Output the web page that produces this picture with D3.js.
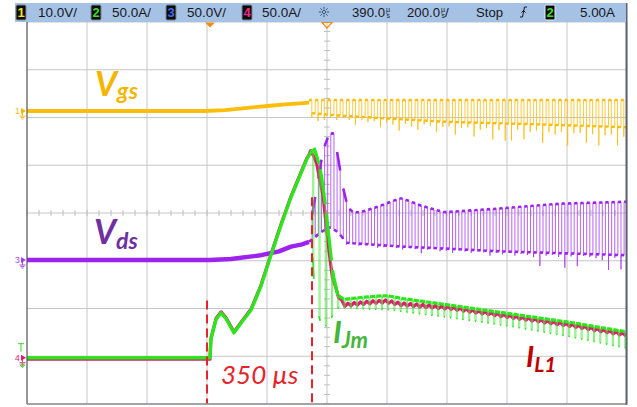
<!DOCTYPE html>
<html>
<head>
<meta charset="utf-8">
<script src="https://cdn.jsdelivr.net/npm/d3@7/dist/d3.min.js"></script>
<style>
  html, body { margin: 0; padding: 0; background: #fff; }
  svg { display: block; }
</style>
</head>
<body>
<svg id="scope" width="637" height="407"></svg>
<script>
// ---------- scope settings (time in µs from the trigger) ----------
const timeWindow   = [-610, 1390];          // 200 µs/div, delay 390 µs
const divRange     = [-4, 4];
const switchStart  = 330;                   // first gate pulse
const switchPeriod = 20.8;                  // PWM period, µs

// ---------- channel 1 : Vgs (V) ----------
const vgsRampT = [-610, -20, 50, 100, 150, 200, 250, 300, 330];
const vgsRampV = [0, 0, 0.2, 0.5, 0.8, 1.1, 1.4, 1.6, 1.75];
const vgsHighT = [330, 1390];
const vgsHighV = [2.3, 2.3];
const vgsLowT  = [330, 400, 570, 800, 1040, 1390];
const vgsLowV  = [-0.4, -0.8, -1.5, -2.3, -2.7, -3.4];
const vgsSpike = [0.8, 1.5, 1.2, 0.6, 1.0, 0.5, 0.8, 1.8, 0.6, 1.0,
                  0.7, 1.9, 0.8, 1.2, 2.4, 0.9, 1.4, 2.0, 0.8, 1.0,
                  2.2, 1.1, 0.9, 2.6, 1.2, 1.0, 2.9, 1.5, 1.1, 3.4,
                  1.4, 3.6, 3.5, 1.2, 3.2, 1.6, 1.3, 3.8, 1.5, 2.0,
                  1.4, 4.2, 1.6, 1.5, 3.5, 1.7, 4.0, 1.8, 1.6, 3.9, 2.0];

// ---------- channel 3 : Vds (V) ----------
const vdsRampT = [-610, 0, 70, 170, 230, 270, 303, 330];
const vdsRampV = [0, 0, 1, 5, 9, 14, 16, 19];
const vdsHighT = [330, 345, 377, 397, 413, 430, 447, 460, 477, 503, 570, 637, 703, 780, 970, 1170, 1390];
const vdsHighV = [30, 55, 115, 132, 133, 101, 70, 55, 50, 50, 57, 65, 57, 50, 54, 59, 61];
const vdsLowT  = [330, 370, 400, 430, 455, 640, 780, 970, 1390];
const vdsLowV  = [19, 29, 35, 28, 18, 14, 12, 9, 5];
const vdsSpike = [0, 0, 0, 0, 0, 0, 2, 1, 2, 1,
                  1, 3, 2, 1, 2, 3, 1, 2, 6, 2,
                  1, 3, 2, 4, 1, 2, 3, 1, 2, 5,
                  2, 3, 1, 4, 2, 3, 5, 14, 3, 2,
                  4, 15, 3, 13, 2, 3, 4, 6, 16, 3, 15];

// ---------- channel 4 : IL1 (A) ----------
const il1T = [-610, 0, 3, 20, 37, 53, 80, 103, 137, 170, 203, 237, 270, 303, 323, 337, 347,
              363, 377, 387, 397, 410, 427, 447, 470, 537, 587, 637, 803, 1003, 1203, 1390];
const il1A = [-1.5, -1.5, 20, 41, 48, 42, 27, 37, 51, 76, 108, 140, 169, 194, 209, 216, 212,
              193, 168, 141, 109, 81, 65, 55, 56, 58, 59, 56, 52, 43, 34, 24];
const il1Ripple = 1.5;

// ---------- channel 2 : IJm (A) ----------
const ijmRampT = [-610, 0, 3, 20, 37, 53, 80, 103, 137, 170, 203, 237, 270, 303, 323, 330];
const ijmRampA = [0, 0, 19, 40, 47, 41, 26, 36, 50, 75, 107, 139, 168, 193, 208, 212];
const ijmHighT = [330, 347, 360, 375, 390, 400, 410, 425, 445, 470, 540, 590, 640, 800, 1000, 1200, 1390];
const ijmHighA = [212, 220, 208, 185, 145, 115, 88, 66, 61, 62, 64, 65, 62, 55, 46, 37, 27];
const ijmLowT  = [330, 340, 350, 370, 390, 410, 430, 460, 600, 800, 1000, 1200, 1390];
const ijmLowA  = [200, 120, 60, 35, 33, 45, 53, 52, 50, 42, 33, 22, 10];

// ---------- markers ----------
const markerT    = [-10, 340];
const markerTopA = [60, 168];
const markerText = "350 µs";

// ---------- status bar ----------
const chanBadges = ["1", "2", "3", "4"];
const chanScales = ["10.0V/", "50.0A/", "50.0V/", "50.0A/"];
const timeDelay  = "390.0";
const timeScale  = "200.0";
const runState   = "Stop";
const trigSource = "2";
const trigLevel  = "5.00A";

// ================= drawing =================
const screen = { left: 27, right: 627, top: 22, bottom: 404 };
const svg = d3.select("#scope");

const x    = d3.scaleLinear().domain(timeWindow).range([screen.left, screen.right]);
const yDiv = d3.scaleLinear().domain(divRange).range([screen.bottom, screen.top]);

const chVgs = { perDiv: 10, ground: 2.136 };
const chVds = { perDiv: 50, ground: -0.984 };
const chI   = { perDiv: 50, ground: -3.03 };
const yOf = (ch, v) => yDiv(ch.ground + v / ch.perDiv);

// graticule
const grid = svg.append("g");
const xTicks = d3.range(timeWindow[0], timeWindow[1] + 1, 200);
grid.selectAll(".v").data(xTicks).join("line")
  .attr("x1", d => x(d)).attr("x2", d => x(d))
  .attr("y1", screen.top).attr("y2", screen.bottom)
  .attr("stroke", "#c6c6c6").attr("stroke-width", 1);
grid.selectAll(".h").data(d3.range(divRange[0], divRange[1] + 1)).join("line")
  .attr("x1", screen.left).attr("x2", screen.right)
  .attr("y1", d => yDiv(d)).attr("y2", d => yDiv(d))
  .attr("stroke", "#c6c6c6").attr("stroke-width", 1);
// minor ticks on the centre lines
const xMid = x((timeWindow[0] + timeWindow[1]) / 2), yMid = yDiv(0);
grid.selectAll(".mx").data(d3.range(timeWindow[0], timeWindow[1], 40)).join("line")
  .attr("x1", d => x(d)).attr("x2", d => x(d)).attr("y1", yMid - 3).attr("y2", yMid + 3)
  .attr("stroke", "#bdbdbd");
grid.selectAll(".my").data(d3.range(divRange[0], divRange[1], 0.2)).join("line")
  .attr("x1", xMid - 3).attr("x2", xMid + 3).attr("y1", d => yDiv(d)).attr("y2", d => yDiv(d))
  .attr("stroke", "#bdbdbd");

// screen clip
svg.append("defs").append("clipPath").attr("id", "screen").append("rect")
  .attr("x", screen.left).attr("y", screen.top)
  .attr("width", screen.right - screen.left).attr("height", screen.bottom - screen.top);
const plot = svg.append("g").attr("clip-path", "url(#screen)");

const zip = (ts, vs) => ts.map((t, i) => [t, vs[i]]);
const env = (ts, vs) => d3.scaleLinear().domain(ts).range(vs).clamp(true);

function trace(ch, pts, color, w, op = 1) {
  plot.append("path")
    .attr("d", d3.line().x(d => x(d[0])).y(d => yOf(ch, d[1]))(pts))
    .attr("fill", "none").attr("stroke", color).attr("stroke-width", w)
    .attr("stroke-opacity", op).attr("stroke-linejoin", "round");
}
function flats(ch, segs, color, w) {
  const p = d3.path();
  segs.forEach(([t1, v1, t2, v2]) => { p.moveTo(x(t1), yOf(ch, v1)); p.lineTo(x(t2), yOf(ch, v2)); });
  plot.append("path").attr("d", p.toString())
    .attr("fill", "none").attr("stroke", color).attr("stroke-width", w);
}

const pulses = d3.range(switchStart, timeWindow[1], switchPeriod);
const P = switchPeriod;

// --- Vgs ---
const YEL = "#fbbd0c";
{
  const hi = env(vgsHighT, vgsHighV), lo = env(vgsLowT, vgsLowV);
  const full = [[switchStart, vgsRampV[vgsRampV.length - 1]]], flat = [];
  pulses.forEach((tk, k) => {
    const tf = tk + 0.45 * P, tn = tk + P;
    full.push([tk, hi(tk)], [tf, hi(tf)], [tf, lo(tf) - (vgsSpike[k] || 1)], [tf, lo(tf)], [tn, lo(tn)]);
    flat.push([tk, hi(tk), tf, hi(tf)], [tf, lo(tf), tn, lo(tn)]);
  });
  trace(chVgs, zip(vgsRampT, vgsRampV), YEL, 3.8);
  trace(chVgs, full, YEL, 1, 0.8);
  flats(chVgs, flat, YEL, 2.4);
}

// --- Vds ---
const PUR = "#9d22ee";
{
  const hi = env(vdsHighT, vdsHighV), lo = env(vdsLowT, vdsLowV);
  const full = [[switchStart, vdsRampV[vdsRampV.length - 1]]], flat = [];
  pulses.forEach((tk, k) => {
    const tr = tk + 0.5 * P, tn = tk + P;
    full.push([tk, lo(tk) - (vdsSpike[k] || 0)], [tk, lo(tk)], [tr, lo(tr)], [tr, hi(tr)], [tn, hi(tn)], [tn, lo(tn)]);
    flat.push([tk, lo(tk), tr, lo(tr)], [tr, hi(tr), tn, hi(tn)]);
  });
  trace(chVds, zip(vdsRampT, vdsRampV), PUR, 4.4);
  trace(chVds, full, "#a63cf0", 1, 0.8);
  flats(chVds, flat, PUR, 2.6);
}

// --- IL1 ---
const MAG = "#e3196e";
{
  const m = env(il1T, il1A);
  const pts = zip(il1T.filter(t => t <= switchStart), il1A.filter((a, i) => il1T[i] <= switchStart));
  pts.push([switchStart, m(switchStart)]);
  pulses.forEach(tk => {
    pts.push([tk + 0.25 * P, m(tk + 0.25 * P) + il1Ripple], [tk + 0.75 * P, m(tk + 0.75 * P) - il1Ripple]);
  });
  trace(chI, pts, MAG, 3.2);
}

// --- IJm ---
const GRN = "#2de51c";
{
  const up = env(ijmHighT, ijmHighA), low = env(ijmLowT, ijmLowA);
  const full = [[switchStart, ijmRampA[ijmRampA.length - 1]]], flat = [], bottoms = [];
  pulses.forEach(tk => {
    const tg = tk + 0.6 * P, tb = tg + 0.18 * P, tn = tk + P;
    full.push([tk, up(tk)], [tg, up(tg)], [tg, low(tg)], [tb, low(tb)], [tb, up(tb)], [tn, up(tn)]);
    flat.push([tk, up(tk), tg, up(tg)], [tb, up(tb), tn, up(tn)]);
    bottoms.push([tg, low(tg), tb, low(tb)]);
  });
  trace(chI, zip(ijmRampT, ijmRampA), GRN, 3.4);
  trace(chI, full, "#4ae83a", 1, 0.7);
  flats(chI, flat, GRN, 3.2);
  flats(chI, bottoms, GRN, 1.5);
}

// --- dashed time markers ---
const RED = "#e6222a";
plot.selectAll(".mk").data(markerT).join("line")
  .attr("x1", d => x(d)).attr("x2", d => x(d))
  .attr("y1", (d, i) => yOf(chI, markerTopA[i])).attr("y2", screen.bottom)
  .attr("stroke", RED).attr("stroke-width", 2).attr("stroke-dasharray", "9,5");

// --- frame ---
svg.append("line").attr("x1", screen.left).attr("x2", screen.left)
  .attr("y1", screen.top).attr("y2", screen.bottom).attr("stroke", "#4a4a4a").attr("stroke-width", 1);
svg.append("line").attr("x1", screen.left).attr("x2", screen.right)
  .attr("y1", screen.bottom).attr("y2", screen.bottom).attr("stroke", "#8c8f96").attr("stroke-width", 1.5);
svg.append("line").attr("x1", screen.right - 0.5).attr("x2", screen.right - 0.5)
  .attr("y1", 3).attr("y2", screen.bottom + 0.75).attr("stroke", "#5c6470").attr("stroke-width", 2);

// --- channel ground markers on the left edge ---
function groundMark(yy, label, color) {
  const g = svg.append("g").attr("fill", color).attr("stroke", color);
  g.append("text").attr("x", 15).attr("y", yy + 3).attr("font-size", 8.5)
    .attr("font-family", "Liberation Sans, Arial, sans-serif").attr("stroke", "none").text(label);
  g.append("path").attr("d", `M21,${yy - 3} L26,${yy} L21,${yy + 3} Z`).attr("stroke", "none");
  g.append("path").attr("fill", "none").attr("stroke-width", 0.9)
    .attr("d", `M22.5,${yy + 2} V${yy + 5} M19.5,${yy + 5} H25.5 M20.5,${yy + 6.5} H24.5 M21.5,${yy + 8} H23.5`);
}
groundMark(yOf(chVgs, 0), "1", "#f2b705");
groundMark(yOf(chVds, 0), "3", "#a040e8");
groundMark(yOf(chI, 0), "4", "#e3196e");
// trigger level marker of channel 2
const yT = yOf(chI, 0);
svg.append("path").attr("fill", "none").attr("stroke", "#3cd62c").attr("stroke-width", 1)
  .attr("d", `M18,${yT - 14} H24 M21,${yT - 14} V${yT - 6} M22.5,${yT + 4} V${yT + 9} M20,${yT + 7} L22.5,${yT + 10} L25,${yT + 7}`);

// --- top markers (trigger point, delay reference) ---
svg.append("path").attr("d", `M${x(0) - 5},22.5 L${x(0) + 5},22.5 L${x(0)},27.5 Z`).attr("fill", "#f08c1c");
svg.append("path").attr("d", `M${xMid - 5},22.5 L${xMid + 5},22.5 L${xMid},28 Z`)
  .attr("fill", "none").attr("stroke", "#f08c1c").attr("stroke-width", 1.2);

// --- status bar ---
const bar = svg.append("g").attr("font-family", "Liberation Sans, Arial, sans-serif").attr("font-size", 13.5);
bar.append("rect").attr("x", 15).attr("y", 3).attr("width", 611).attr("height", 19).attr("fill", "#a5c2e4");
const badgeCol = ["#f4e21a", "#3cdc2a", "#3d6cf2", "#f0288a"];
const badgeX = [16, 91, 166, 242];
const scaleX = [38, 112, 187, 262];
function badge(bx, txt, col, edge) {
  bar.append("rect").attr("x", bx).attr("y", 5).attr("width", 10).attr("height", 15).attr("rx", 1.5)
    .attr("fill", "#0c0c0c").attr("stroke", edge).attr("stroke-width", 1);
  bar.append("text").attr("x", bx + 5).attr("y", 17.3).attr("text-anchor", "middle")
    .attr("font-weight", "bold").attr("font-size", 13).attr("fill", col).text(txt);
}
chanBadges.forEach((b, i) => {
  badge(badgeX[i], b, badgeCol[i], "#7b8796");
  bar.append("text").attr("x", scaleX[i]).attr("y", 17.3).attr("fill", "#15171c")
    .attr("textLength", 39).attr("lengthAdjust", "spacingAndGlyphs").text(chanScales[i]);
});
// acquisition icon
const sun = bar.append("g").attr("stroke", "#3a4d6a").attr("stroke-width", 0.9);
d3.range(0, 360, 45).forEach(a => {
  const r = a * Math.PI / 180;
  sun.append("line").attr("x1", 324 + 2.6 * Math.cos(r)).attr("y1", 12 + 2.6 * Math.sin(r))
    .attr("x2", 324 + 5.2 * Math.cos(r)).attr("y2", 12 + 5.2 * Math.sin(r));
});
sun.append("circle").attr("cx", 324).attr("cy", 12).attr("r", 1.6).attr("fill", "none");
// time settings
function microSec(px) {
  bar.append("text").attr("x", px).attr("y", 11.5).attr("font-size", 7).attr("fill", "#15171c").text("µ");
  bar.append("text").attr("x", px + 0.5).attr("y", 17.5).attr("font-size", 7).attr("fill", "#15171c").text("s");
}
bar.append("text").attr("x", 352).attr("y", 17.3).attr("fill", "#15171c")
  .attr("textLength", 33).attr("lengthAdjust", "spacingAndGlyphs").text(timeDelay);
microSec(386);
bar.append("text").attr("x", 407).attr("y", 17.3).attr("fill", "#15171c")
  .attr("textLength", 33).attr("lengthAdjust", "spacingAndGlyphs").text(timeScale);
microSec(441);
bar.append("text").attr("x", 445).attr("y", 17.3).attr("fill", "#15171c").text("/");
bar.append("text").attr("x", 476).attr("y", 17.3).attr("fill", "#15171c")
  .attr("textLength", 27).attr("lengthAdjust", "spacingAndGlyphs").text(runState);
// rising-edge trigger glyph
bar.append("path").attr("fill", "none").attr("stroke", "#15171c").attr("stroke-width", 1)
  .attr("d", "M520,17 H522.5 L524.5,7 H527 M521.5,12.5 L523.5,10.5 L525.5,12.5");
badge(545, trigSource, "#3cdc2a", "#e8eef6");
bar.append("text").attr("x", 580).attr("y", 17.3).attr("fill", "#15171c")
  .attr("textLength", 35).attr("lengthAdjust", "spacingAndGlyphs").text(trigLevel);

// --- signal names ---
const lab = svg.append("g").attr("font-family", "Lato, 'Open Sans', sans-serif")
  .attr("font-style", "italic").attr("font-weight", "bold");
function name(px, py, main, sub, dy, fsMain, fsSub, col) {
  const t = lab.append("text").attr("x", px).attr("y", py).attr("fill", col);
  t.append("tspan").attr("font-size", fsMain).text(main);
  t.append("tspan").attr("font-size", fsSub).attr("dy", dy).text(sub);
}
name(95, 96, "V", "gs", 3, 34, 23, "#f4b600");
name(94, 244, "V", "ds", 5, 34, 23, "#7030a0");
name(333, 343, "I", "Jm", 5, 31, 22, "#44b63c");
name(526, 367, "I", "L1", 5, 29, 21, "#c00000");
svg.append("text").attr("x", 221).attr("y", 384)
  .attr("font-family", "Lato, 'Open Sans', sans-serif").attr("font-style", "italic")
  .attr("font-size", 26).attr("fill", RED).text(markerText);
</script>
</body>
</html>
